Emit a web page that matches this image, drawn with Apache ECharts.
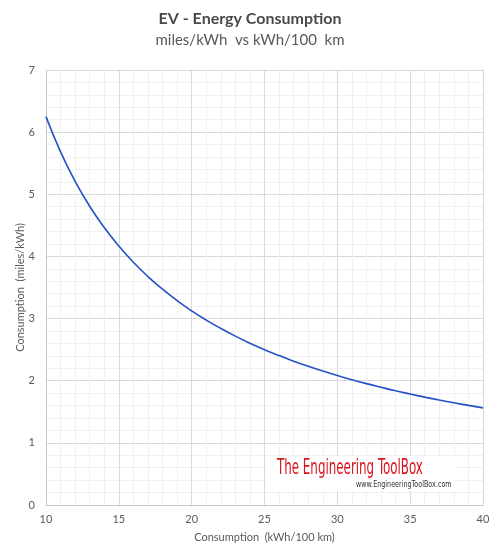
<!DOCTYPE html>
<html>
<head>
<meta charset="utf-8">
<script src="https://cdn.jsdelivr.net/npm/echarts@6/dist/echarts.min.js"></script>
<style>
  html, body { margin: 0; padding: 0; background: #fff; }
  #chart { width: 500px; height: 556px; }
</style>
</head>
<body>
<div id="chart"></div>
<script>
// kWh/100 km
const consumptionKwh = [10, 11, 12, 13, 14, 15, 16, 17, 18, 19, 20, 21, 22, 23, 24, 25,
  26, 27, 28, 29, 30, 31, 32, 33, 34, 35, 36, 37, 38, 39, 40];
// miles/kWh
const milesPerKwh = [6.25, 5.682, 5.208, 4.808, 4.464, 4.167, 3.906, 3.676, 3.472, 3.289,
  3.125, 2.976, 2.841, 2.717, 2.604, 2.5, 2.404, 2.315, 2.232, 2.155, 2.083, 2.016,
  1.953, 1.894, 1.838, 1.786, 1.736, 1.689, 1.645, 1.603, 1.563];

const font = 'Lato, "Open Sans", sans-serif';
const labelColor = '#595959';

const chart = echarts.init(document.getElementById('chart'));
chart.setOption({
  animation: false,
  title: {
    text: 'EV - Energy Consumption',
    subtext: 'miles/kWh  vs kWh/100  km',
    left: 'center',
    top: 6,
    itemGap: 6,
    textStyle: { fontFamily: font, fontSize: 16, fontWeight: 'bold', color: '#4a4a4a' },
    subtextStyle: { fontFamily: font, fontSize: 15, color: '#595959' }
  },
  grid: { left: 46, right: 17, top: 70, bottom: 51, outerBoundsMode: 'none' },
  xAxis: {
    type: 'value',
    min: 10,
    max: 40,
    interval: 5,
    name: 'Consumption  (kWh/100 km)',
    nameLocation: 'middle',
    nameGap: 27,
    nameMoveOverlap: false,
    nameTextStyle: { fontFamily: font, fontSize: 11, color: labelColor },
    axisLine: { show: true, lineStyle: { color: '#c8c8c8' } },
    axisTick: { show: false },
    axisLabel: { fontFamily: font, fontSize: 11, color: labelColor, margin: 9 },
    splitLine: { show: true, lineStyle: { color: '#d9d9d9', width: 1 } },
    minorTick: { show: false, splitNumber: 5 },
    minorSplitLine: { show: true, lineStyle: { color: '#f0f0f0', width: 1 } }
  },
  yAxis: {
    type: 'value',
    min: 0,
    max: 7,
    interval: 1,
    name: 'Consumption  (miles/kWh)',
    nameLocation: 'middle',
    nameGap: 20,
    nameMoveOverlap: false,
    nameTextStyle: { fontFamily: font, fontSize: 11, color: labelColor },
    axisLine: { show: true, lineStyle: { color: '#c8c8c8' } },
    axisTick: { show: false },
    axisLabel: { fontFamily: font, fontSize: 11, color: labelColor, margin: 11 },
    splitLine: { show: true, lineStyle: { color: '#d9d9d9', width: 1 } },
    minorTick: { show: false, splitNumber: 5 },
    minorSplitLine: { show: true, lineStyle: { color: '#f0f0f0', width: 1 } }
  },
  series: [
    {
      type: 'line',
      data: consumptionKwh.map((x, i) => [x, milesPerKwh[i]]),
      smooth: true,
      showSymbol: false,
      lineStyle: { color: '#2450c8', width: 1.6 }
    }
  ],
  graphic: [
    {
      type: 'rect',
      shape: { x: 266, y: 456, width: 190, height: 35 },
      style: { fill: '#ffffff' },
      z: 10
    },
    {
      type: 'text',
      x: 277,
      y: 457,
      scaleX: 0.6,
      style: {
        text: 'The Engineering ToolBox',
        font: '22px "DejaVu Sans Condensed", sans-serif',
        fill: '#d8141c'
      },
      z: 11
    },
    {
      type: 'text',
      x: 356,
      y: 481,
      scaleX: 0.8,
      style: {
        text: 'www.EngineeringToolBox.com',
        font: '8px "DejaVu Sans", sans-serif',
        fill: '#333333'
      },
      z: 11
    }
  ]
});
</script>
</body>
</html>
